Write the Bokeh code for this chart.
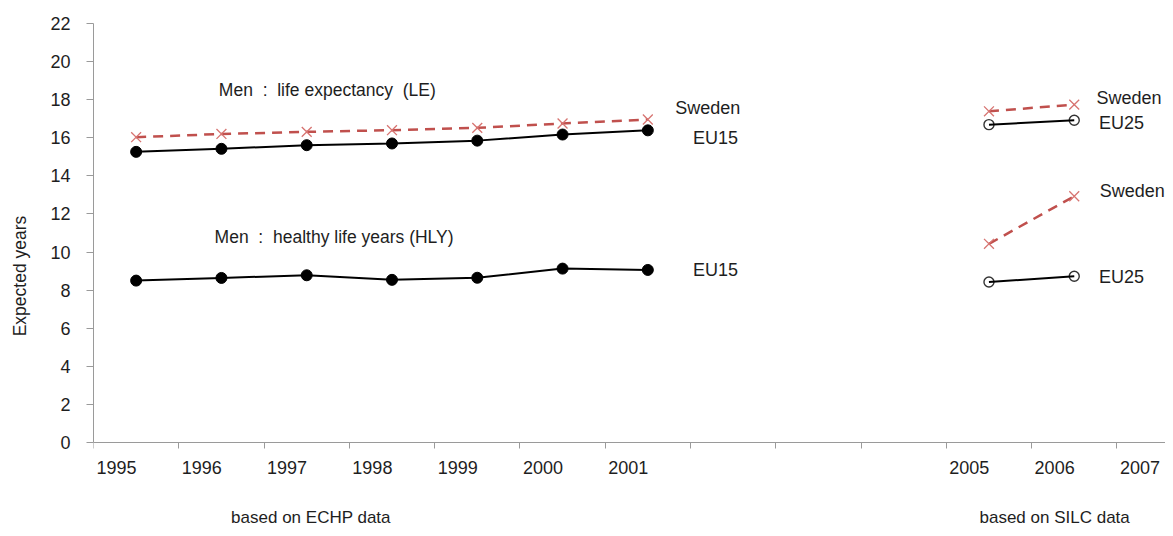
from bokeh.plotting import figure
from bokeh.models import LinearAxis, FixedTicker, CustomJSTickFormatter, Range1d
from bokeh.core.properties import value
from bokeh.embed import file_html
from bokeh.resources import INLINE

# ---------------- data ----------------
axis_years = [1995, 1996, 1997, 1998, 1999, 2000, 2001, 2002, 2003, 2004, 2005, 2006, 2007]
axis_labels = ["1995", "1996", "1997", "1998", "1999", "2000", "2001", "", "", "", "2005", "2006", "2007"]

years_echp = [1995, 1996, 1997, 1998, 1999, 2000, 2001]
le_eu15 = [15.26, 15.42, 15.61, 15.70, 15.85, 16.17, 16.39]
le_sweden_echp = [16.03, 16.20, 16.31, 16.40, 16.52, 16.75, 16.96]
hly_eu15 = [8.50, 8.64, 8.78, 8.54, 8.65, 9.13, 9.06]

years_silc = [2005, 2006]
le_eu25 = [16.69, 16.92]
le_sweden_silc = [17.39, 17.74]
hly_eu25 = [8.43, 8.73]
hly_sweden_silc = [10.43, 12.93]

y_ticks = [0, 2, 4, 6, 8, 10, 12, 14, 16, 18, 20, 22]
source_notes = ["based on ECHP data", "based on SILC data"]

FONT = "Liberation Sans"
TXT = "#1e1e1e"
AX = "#9a9a9a"
RED = "#C0504D"
REDX = "#D77471"
NB = "\u00a0"

base = axis_years[0]
def pos(years):
    return [y - base + 0.5 for y in years]

x_echp = pos(years_echp)
x_silc = pos(years_silc)

p = figure(width=1165, height=528, output_backend="svg", toolbar_location=None,
           x_range=Range1d(0, 12.57), y_range=Range1d(-4.516, 22),
           x_axis_location=None, min_border_left=93, min_border_right=0,
           min_border_top=23, min_border_bottom=0)
p.outline_line_color = None
p.grid.visible = False
p.background_fill_color = "white"
p.border_fill_color = "white"

# y axis
ya = p.yaxis[0]
ya.ticker = FixedTicker(ticks=y_ticks)
ya.bounds = (0, 22)
ya.major_tick_out = 7
ya.major_tick_in = 0
ya.minor_tick_line_color = None
ya.axis_line_color = AX
ya.major_tick_line_color = AX
ya.major_label_standoff = 16
ya.major_label_text_font = FONT
ya.major_label_text_font_size = "18px"
ya.major_label_text_color = TXT
ya.axis_label = "Expected years"
ya.axis_label_text_font = FONT
ya.axis_label_text_font_size = "17.5px"
ya.axis_label_text_font_style = "normal"
ya.axis_label_text_color = TXT
ya.axis_label_standoff = 17

# x axis at y=0: tick marks at category boundaries
xa = LinearAxis(ticker=FixedTicker(ticks=list(range(len(axis_years) + 1))),
                formatter=CustomJSTickFormatter(code="return ''"),
                fixed_location=0,
                major_tick_out=6, major_tick_in=0, minor_tick_line_color=None,
                axis_line_color=AX, major_tick_line_color=AX,
                major_label_standoff=0, major_label_text_font_size="1px")
p.add_layout(xa, "below")

# x axis at y=0: year labels
label_shift = 0.27
xl = LinearAxis(ticker=FixedTicker(ticks=[i + label_shift for i in range(len(axis_years))]),
                formatter=CustomJSTickFormatter(args=dict(labels=axis_labels, s=label_shift),
                                                code="return labels[Math.round(tick - s)] || ''"),
                fixed_location=0,
                major_tick_out=0, major_tick_in=0, minor_tick_line_color=None,
                axis_line_color=None, major_tick_line_color=None,
                major_label_standoff=19, major_label_text_font=FONT,
                major_label_text_font_size="18px", major_label_text_color=TXT)
p.add_layout(xl, "below")

# ---------------- series ----------------
def dashed(x, y):
    p.line(x, y, line_color=RED, line_width=2.5, line_dash="10 7")
    p.scatter(x, y, marker="x", size=14, line_color=REDX, line_width=1.3)

def solid_filled(x, y):
    p.line(x, y, line_color="black", line_width=2)
    p.scatter(x, y, marker="circle", size=11, fill_color="black", line_color="black")

def solid_open(x, y):
    p.scatter(x, y, marker="circle", size=10, fill_color=None, line_color="#333333", line_width=1.4)
    p.line(x, y, line_color="black", line_width=2)

dashed(x_echp, le_sweden_echp)
solid_filled(x_echp, le_eu15)
solid_filled(x_echp, hly_eu15)
dashed(x_silc, le_sweden_silc)
solid_open(x_silc, le_eu25)
dashed(x_silc, hly_sweden_silc)
solid_open(x_silc, hly_eu25)

# series labels (placed relative to last points)
lab_x = [x_echp[-1] + 0.32, x_echp[-1] + 0.53, x_echp[-1] + 0.53,
         x_silc[-1] + 0.26, x_silc[-1] + 0.29, x_silc[-1] + 0.30, x_silc[-1] + 0.29]
lab_y = [le_sweden_echp[-1] + 0.62, le_eu15[-1] - 0.38, hly_eu15[-1] + 0.02,
         le_sweden_silc[-1] + 0.37, le_eu25[-1] - 0.12, hly_sweden_silc[-1] + 0.30, hly_eu25[-1] - 0.02]
lab_t = ["Sweden", "EU15", "EU15", "Sweden", "EU25", "Sweden", "EU25"]
p.text(x=lab_x, y=lab_y, text=lab_t, text_font=value(FONT), text_font_size="18px",
       text_color=TXT, text_baseline="middle", text_align="left")

# block titles
titles = ["Men" + NB * 2 + ":" + NB * 2 + "life expectancy" + NB * 2 + "(LE)",
          "Men" + NB * 2 + ":" + NB * 2 + "healthy life years (HLY)"]
p.text(x=[1.47, 1.42], y=[18.53, 10.81], text=titles,
       text_font=value(FONT), text_font_size="17.5px", text_color=TXT,
       text_baseline="middle", text_align="left")

# source notes under the axis
p.text(x=[2.55, 11.27], y=[-3.95, -3.95], text=source_notes,
       text_font=value(FONT), text_font_size="17px", text_color=TXT,
       text_baseline="alphabetic", text_align="center")

open("out.html", "w").write(file_html(p, INLINE))
